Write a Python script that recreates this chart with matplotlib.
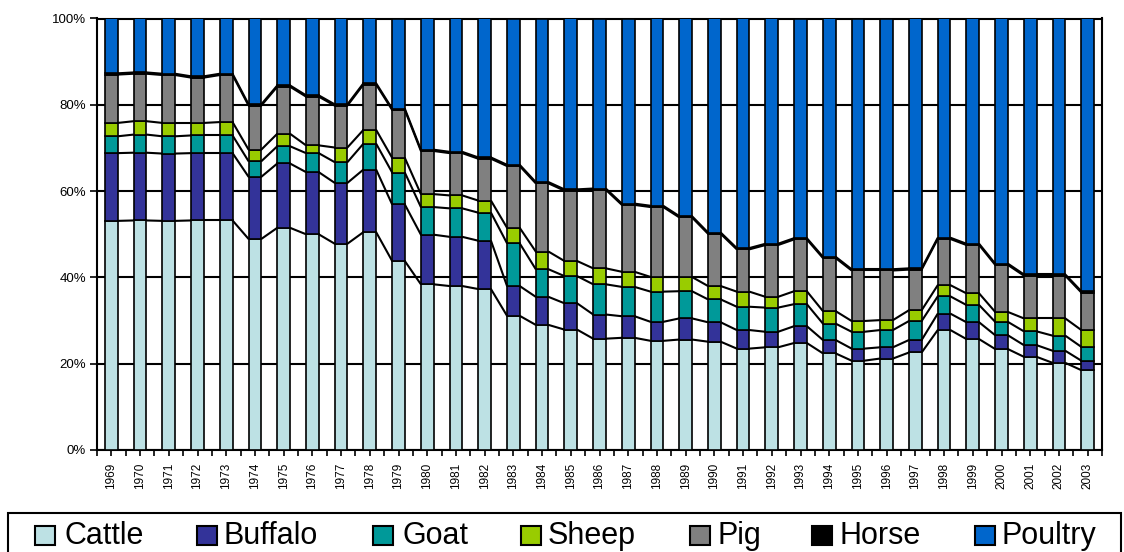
import matplotlib
matplotlib.use("Agg")
import matplotlib.pyplot as plt
import numpy as np
from matplotlib.patches import Rectangle

plt.rcParams['font.family'] = ['Liberation Sans', 'DejaVu Sans']

years = [str(y) for y in range(1969, 2004)]
series_names = ["Cattle", "Buffalo", "Goat", "Sheep", "Pig", "Horse", "Poultry"]
colors = ["#BDE1E4", "#333399", "#009999", "#99CC00", "#808080", "#000000", "#0066CC"]

cattle = [53.1, 53.2, 53.1, 53.2, 53.2, 48.9, 51.5, 50.0, 47.8, 50.5, 43.8, 38.4, 38.0, 37.3,
          31.1, 29.0, 27.9, 25.8, 26.0, 25.3, 25.6, 25.1, 23.5, 23.8, 24.8, 22.4, 20.7, 21.2,
          22.6, 27.8, 25.7, 23.4, 21.6, 20.2, 18.5]
buffalo = [15.7, 15.7, 15.6, 15.6, 15.6, 14.4, 14.9, 14.4, 14.1, 14.5, 13.1, 11.5, 11.4, 11.2,
           6.9, 6.5, 6.1, 5.6, 5.0, 4.4, 4.9, 4.5, 4.3, 3.6, 3.9, 3.1, 2.8, 2.6,
           2.9, 3.8, 3.9, 3.2, 2.7, 2.8, 2.2]
goat = [3.9, 4.2, 4.0, 4.1, 4.1, 3.6, 4.0, 4.4, 4.8, 6.0, 7.4, 6.4, 6.6, 6.5,
        9.9, 6.4, 6.3, 7.0, 6.8, 7.0, 6.3, 5.3, 5.4, 5.6, 5.1, 3.8, 3.9, 4.0,
        4.4, 4.0, 4.0, 3.1, 3.2, 3.5, 3.2]
sheep = [3.1, 3.1, 3.1, 2.9, 3.1, 2.7, 2.9, 1.8, 3.4, 3.2, 3.4, 3.0, 3.0, 2.8,
         3.6, 4.1, 3.5, 3.7, 3.5, 3.4, 3.3, 3.1, 3.5, 2.5, 3.0, 2.9, 2.5, 2.3,
         2.5, 2.6, 2.7, 2.3, 3.0, 4.0, 3.9]
pig = [11.2, 11.0, 11.1, 10.5, 10.9, 10.2, 10.9, 11.3, 9.7, 10.5, 11.1, 10.0, 9.8, 9.7,
       14.3, 15.8, 16.3, 18.2, 15.5, 16.2, 13.8, 12.1, 9.8, 12.0, 12.0, 12.3, 11.7, 11.5,
       9.4, 10.7, 11.2, 10.9, 9.9, 9.9, 8.7]
horse = [0.3] * 35
poultry = [12.7, 12.5, 12.8, 13.4, 12.8, 19.9, 15.5, 17.8, 19.9, 15.0, 20.9, 30.4, 30.9, 32.2,
           33.9, 37.9, 39.6, 39.4, 42.9, 43.4, 45.8, 49.6, 53.2, 52.2, 50.9, 55.2, 58.1, 58.1,
           57.9, 50.8, 52.2, 56.8, 59.3, 59.3, 63.2]

data = np.array([cattle, buffalo, goat, sheep, pig, horse, poultry], dtype=float)
data = data / data.sum(axis=0) * 100.0

fig = plt.figure(figsize=(11.24, 5.52), dpi=100)
ax = fig.add_axes([97 / 1124, 1 - 450 / 552, (1102 - 97) / 1124, (450 - 18.5) / 552])

x = np.arange(len(years))
width = 0.44
bottom = np.zeros(len(years))
for i, name in enumerate(series_names):
    ax.bar(x, data[i], width, bottom=bottom, color=colors[i], edgecolor="black",
           linewidth=1.2, zorder=3, label=name)
    bottom = bottom + data[i]
    # series lines connecting bar tops
    if i < len(series_names) - 1:
        for j in range(len(years) - 1):
            ax.plot([x[j] + width / 2, x[j + 1] - width / 2], [bottom[j], bottom[j + 1]],
                    color="black", linewidth=1.5, zorder=4, solid_capstyle="butt")

ax.set_xlim(-0.5, len(years) - 0.5)
ax.set_ylim(0, 100)
ax.set_yticks([0, 20, 40, 60, 80, 100])
ax.set_yticklabels(["0%", "20%", "40%", "60%", "80%", "100%"], fontsize=9.5)
ax.set_xticks(x)
ax.set_xticklabels(years, rotation=90, fontsize=8.5)
ax.set_xticks(np.arange(-0.5, len(years)), minor=True)
ax.tick_params(axis="x", which="both", direction="out", length=4, width=1.2, pad=5)
ax.tick_params(axis="y", direction="out", length=5, width=1.2, pad=3)
ax.yaxis.grid(True, color="black", linewidth=1.5, zorder=0)
ax.set_axisbelow(True)
for s in ax.spines.values():
    s.set_linewidth(1.5)
    s.set_color("black")

# legend box (manual, to match layout)
W, H = 1124.0, 552.0
fig.patches.append(Rectangle((8 / W, -0.01), (1121 - 8) / W, (H - 513) / H + 0.01,
                             transform=fig.transFigure, facecolor="white",
                             edgecolor="black", linewidth=1.5, zorder=1))
leg_sq = [35, 197, 373, 521, 690, 812, 975]
leg_tx = [64, 223, 403, 548, 718, 840, 1002]
for i, name in enumerate(series_names):
    fig.patches.append(Rectangle((leg_sq[i] / W, 1 - 545 / H), 20 / W, 19 / H,
                                 transform=fig.transFigure, facecolor=colors[i],
                                 edgecolor="black", linewidth=1.5, zorder=2))
    fig.text(leg_tx[i] / W, 1 - 536 / H, name, fontsize=22, va="center", ha="left",
             color="black", zorder=3)

fig.savefig("out.png", dpi=100)
